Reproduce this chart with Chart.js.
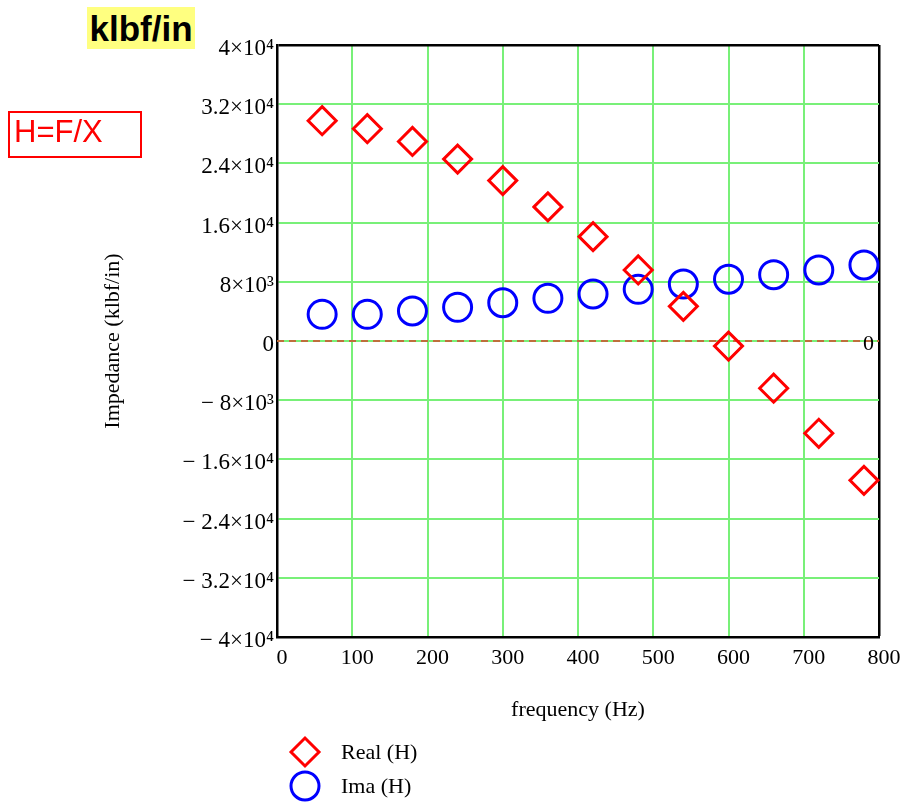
<!DOCTYPE html>
<html><head><meta charset="utf-8">
<script src="https://cdn.jsdelivr.net/npm/chart.js@4"></script>
<style>
html,body{margin:0;padding:0;background:#fff;width:904px;height:804px;overflow:hidden}
#wrap{position:relative;width:904px;height:804px}
#c{position:absolute;left:0;top:0}
#unit{position:absolute;left:87px;top:7px;width:108px;height:42px;background:#ffff80;font:bold 35px "Liberation Sans",Arial,sans-serif;line-height:44px;text-align:center;color:#000}
#eq{position:absolute;left:8px;top:111px;height:43px;border:2px solid #f00;color:#f00;font:31px "Liberation Sans",Arial,sans-serif;line-height:38px;padding-left:4px;box-sizing:content-box;width:126px}
</style>
</head><body>
<div id="wrap">
<canvas id="c" width="904" height="804"></canvas>
<div id="unit">klbf/in</div>
<div id="eq">H=F/X</div>
</div>
<script>
// ---- data ----
const frequencies = [60, 120, 180, 240, 300, 360, 420, 480, 540, 600, 660, 720, 780];
const realH = [29770, 28690, 26960, 24580, 21680, 18120, 14100, 9600, 4680, -690, -6380, -12470, -18830];
const imaH  = [3600, 3600, 4050, 4550, 5170, 5770, 6350, 6980, 7700, 8340, 8960, 9600, 10270];
const seriesLabels = ['Real (H)', 'Ima (H)'];
const xTickValues = [0, 100, 200, 300, 400, 500, 600, 700, 800];
const xTickLabels = ['0', '100', '200', '300', '400', '500', '600', '700', '800'];
const yTickValues = [-40000, -32000, -24000, -16000, -8000, 0, 8000, 16000, 24000, 32000, 40000];
const yTickLabels = ['\u2212 4\u00d710\u2074', '\u2212 3.2\u00d710\u2074', '\u2212 2.4\u00d710\u2074', '\u2212 1.6\u00d710\u2074', '\u2212 8\u00d710\u00b3', '0', '8\u00d710\u00b3', '1.6\u00d710\u2074', '2.4\u00d710\u2074', '3.2\u00d710\u2074', '4\u00d710\u2074'];
const zeroLineX = [0, 800];
const zeroLineLabel = '0';
const xTitle = 'frequency (Hz)';
const yTitle = 'Impedance (klbf/in)';

const SERIF = '"Liberation Serif", "DejaVu Serif", "Times New Roman", serif';
const GRID = 'rgb(120,240,120)';

function pts(xs, ys) { return xs.map((x, i) => ({x: x, y: ys[i]})); }

function drawMarker(ctx, style, x, y, r, color, lw) {
  ctx.save();
  ctx.strokeStyle = color; ctx.lineWidth = lw; ctx.lineJoin = 'miter';
  ctx.beginPath();
  if (style === 'rectRot') {
    ctx.moveTo(x - r, y); ctx.lineTo(x, y - r); ctx.lineTo(x + r, y); ctx.lineTo(x, y + r); ctx.closePath();
  } else {
    ctx.arc(x, y, r, 0, Math.PI * 2);
  }
  ctx.stroke();
  ctx.restore();
}

const extras = {
  id: 'extras',
  afterDatasetsDraw(chart) {
    const ctx = chart.ctx, xs = chart.scales.x, ys = chart.scales.y;
    ctx.save();
    ctx.font = '22px ' + SERIF;
    ctx.fillStyle = '#000';
    ctx.textAlign = 'right';
    ctx.textBaseline = 'middle';
    ctx.fillText(zeroLineLabel, xs.getPixelForValue(800) - 5, ys.getPixelForValue(0) + 3);
    // legend
    const ds = chart.data.datasets;
    const lx = chart.chartArea.left + 28;
    const ly0 = chart.chartArea.bottom + 115;
    ctx.textAlign = 'left';
    for (let i = 0; i < 2; i++) {
      const d = ds[i];
      const y = ly0 + i * 34;
      drawMarker(ctx, d.pointStyle, lx, y, d.pointRadius, d.borderColor, d.pointBorderWidth);
      ctx.fillText(d.label, lx + 36, y + 1);
    }
    ctx.restore();
  }
};

new Chart(document.getElementById('c'), {
  type: 'scatter',
  data: {
    datasets: [
      { label: seriesLabels[0], data: pts(frequencies, realH), pointStyle: 'rectRot', pointRadius: 14, pointHoverRadius: 14,
        borderColor: '#ff0000', pointBorderColor: '#ff0000', pointBorderWidth: 3, backgroundColor: 'rgba(0,0,0,0)', pointBackgroundColor: 'rgba(0,0,0,0)', showLine: false },
      { label: seriesLabels[1], data: pts(frequencies, imaH), pointStyle: 'circle', pointRadius: 14, pointHoverRadius: 14,
        borderColor: '#0000ff', pointBorderColor: '#0000ff', pointBorderWidth: 3, backgroundColor: 'rgba(0,0,0,0)', pointBackgroundColor: 'rgba(0,0,0,0)', showLine: false },
      { label: 'zero', data: zeroLineX.map(x => ({x: x, y: 0})), showLine: true, pointRadius: 0, borderColor: 'rgb(190,110,60)',
        borderWidth: 2, borderDash: [7, 5], fill: false }
    ]
  },
  options: {
    responsive: false,
    animation: false,
    devicePixelRatio: 1,
    layout: { padding: { left: 0, right: 25, top: 45, bottom: 77 } },
    plugins: { legend: { display: false }, tooltip: { enabled: false } },
    elements: { point: { hitRadius: 0 } },
    clip: false,
    scales: {
      x: {
        type: 'linear', min: 0, max: 800,
        afterBuildTicks(s) { s.ticks = xTickValues.map(v => ({value: v})); },
        afterFit(s) { s.height = 90; },
        ticks: { font: { family: SERIF, size: 22 }, color: '#000', padding: 8, labelOffset: 5, maxRotation: 0,
          callback: (v) => { const i = xTickValues.indexOf(v); return i >= 0 ? xTickLabels[i] : ''; } },
        grid: { drawTicks: false,
          color: (c) => (c.tick && c.tick.value === 800) ? '#000' : GRID,
          lineWidth: (c) => (c.tick && c.tick.value === 800) ? 2.5 : 2 },
        border: { color: '#000', width: 2.5 },
        title: { display: true, text: xTitle, color: '#000', font: { family: SERIF, size: 22 }, padding: { top: 0, bottom: 4 } }
      },
      y: {
        type: 'linear', min: -40000, max: 40000,
        afterBuildTicks(s) { s.ticks = yTickValues.map(v => ({value: v})); },
        afterFit(s) { s.width = 277; },
        ticks: { font: { family: SERIF, size: 23 }, color: '#000', padding: 3, labelOffset: 4,
          callback: (v) => { const i = yTickValues.indexOf(v); return i >= 0 ? yTickLabels[i] : ''; } },
        grid: { drawTicks: false,
          color: (c) => (c.tick && c.tick.value === 40000) ? '#000' : GRID,
          lineWidth: (c) => (c.tick && c.tick.value === 40000) ? 2.5 : 2 },
        border: { color: '#000', width: 2.5 },
        title: { display: true, text: yTitle, color: '#000', font: { family: SERIF, size: 22 }, padding: { top: 100, bottom: 0 } }
      }
    }
  },
  plugins: [extras]
});
</script>
</body></html>
